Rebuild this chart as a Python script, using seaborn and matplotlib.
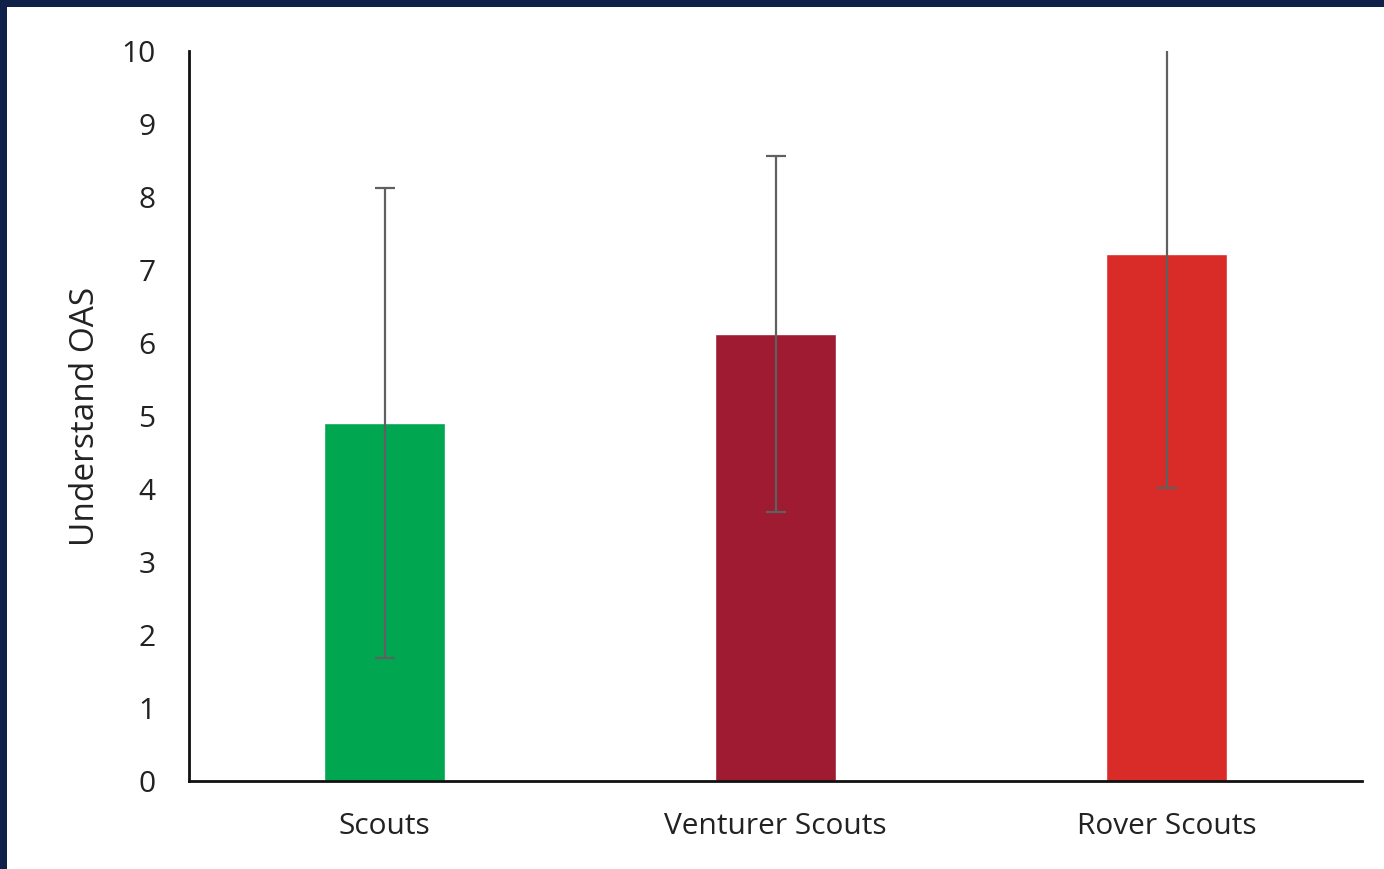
import matplotlib
matplotlib.use("Agg")
import matplotlib.pyplot as plt
import seaborn as sns
from matplotlib.patches import Rectangle

# data
categories = ["Scouts", "Venturer Scouts", "Rover Scouts"]
means = [4.9, 6.12, 7.22]
errs = [3.22, 2.44, 3.2]
bar_colors = ["#00a650", "#9e1b32", "#d92b27"]

sns.set_style("white")
plt.rcParams['font.family'] = ['Open Sans', 'DejaVu Sans']

fig = plt.figure(figsize=(13.84, 8.69), dpi=100)
fig.patch.set_facecolor("#0f2149")
# white panel inside the navy frame (frame only on left and top)
fig.patches.append(Rectangle((7 / 1384, 0), 1 - 7 / 1384, 1 - 7 / 869,
                             transform=fig.transFigure, facecolor="white",
                             edgecolor="none", zorder=-10))

ax = fig.add_axes([189 / 1384, 1 - 781 / 869, (1362 - 189) / 1384, (781 - 51) / 869])
ax.set_facecolor("white")

sns.barplot(x=categories, y=means, hue=categories, palette=bar_colors,
            width=0.31, errorbar=None, legend=False, ax=ax, saturation=1)
ax.errorbar(x=range(len(categories)), y=means, yerr=errs, fmt="none",
            ecolor="#606060", elinewidth=1.6, capsize=7, capthick=1.6, zorder=5)

ax.set_ylim(0, 10)
ax.set_xlim(-0.5, 2.5)
ax.set_yticks(range(0, 11))
ax.tick_params(axis="both", length=0, labelsize=21.5, colors="#222222")
ax.tick_params(axis="x", pad=22)
ax.tick_params(axis="y", pad=24)
ax.set_ylabel("Understand OAS", fontsize=24, color="#222222", labelpad=14)
ax.set_xlabel("")

for side in ["top", "right"]:
    ax.spines[side].set_visible(False)
for side in ["left", "bottom"]:
    ax.spines[side].set_color("#111111")
    ax.spines[side].set_linewidth(2)

fig.savefig("out.png", dpi=100, facecolor=fig.get_facecolor())
